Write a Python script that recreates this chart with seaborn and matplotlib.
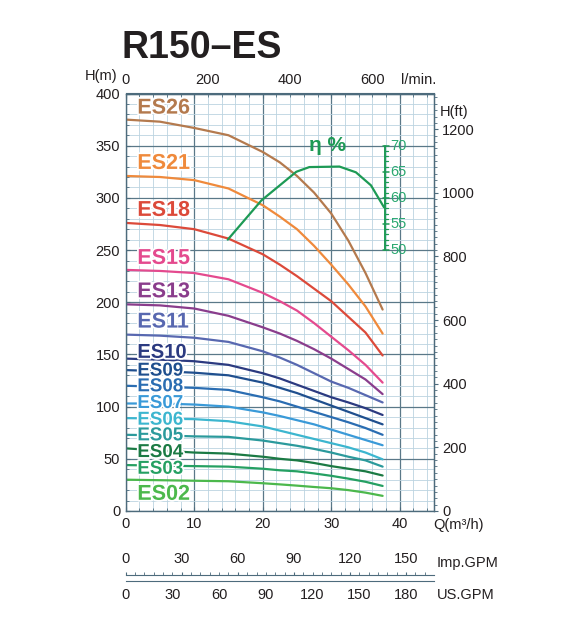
import numpy as np
import pandas as pd
import matplotlib.pyplot as plt
import matplotlib.patheffects as pe
from matplotlib.ticker import MultipleLocator, FixedLocator
import seaborn as sns

sns.set_style('white')
plt.rcParams['font.family'] = ['Liberation Sans', 'DejaVu Sans']

q = [0, 5, 10, 15, 20, 22.5, 25, 27.5, 30, 32.5, 35, 37.5]

models = ['ES26', 'ES21', 'ES18', 'ES15', 'ES13', 'ES11', 'ES10', 'ES09',
          'ES08', 'ES07', 'ES06', 'ES05', 'ES04', 'ES03', 'ES02']

es26 = [375, 373, 367, 360, 344, 334, 321, 305, 285, 259, 228, 193]
es21 = [321, 320, 317, 309, 293, 282, 270, 254, 236, 217, 196, 170]
es18 = [276, 274, 270, 261, 246, 236, 225, 213, 201, 186, 171, 149]
es15 = [231, 230, 228, 222, 209, 201, 192, 180, 167, 154, 140, 123]
es13 = [198, 197, 194, 187, 176, 170, 163, 155, 146, 136, 126, 112]
es11 = [169, 168, 166, 162, 153, 147, 140, 132, 124, 118, 111, 104]
es10 = [146, 145, 143.5, 140, 132, 127, 121, 115, 109, 104, 98.5, 92]
es09 = [135, 134, 132.5, 130, 123, 118, 113, 107, 101, 95, 89, 83]
es08 = [120, 119, 118, 116, 109, 105, 100, 95, 90, 85, 79.5, 73]
es07 = [103, 103, 102, 100, 94.5, 91, 87, 83, 78, 73, 68, 63]
es06 = [89, 88.5, 88, 86, 81, 77, 73, 69, 65, 61, 56, 49.5]
es05 = [73, 72.5, 71.5, 71, 67.5, 65, 62.5, 59.5, 56, 52, 48.5, 42.5]
es04 = [60, 58, 56, 55, 52, 50, 48.5, 46, 43, 40.5, 38, 34]
es03 = [44, 43.5, 43, 42.5, 40.5, 39, 38, 36, 33.7, 31, 28, 24]
es02 = [30, 29.5, 29, 28.5, 26.6, 25.5, 24.3, 23, 21.8, 20, 17.6, 14.5]
heads = [es26, es21, es18, es15, es13, es11, es10, es09,
         es08, es07, es06, es05, es04, es03, es02]

colors = ['#b47a4e', '#ef8a3c', '#dc4a3a', '#e44a8e', '#8a3d8c', '#5868b0',
          '#2b3a80', '#1f4f8e', '#2a6db2', '#3a9ad8', '#3cb6cf', '#2b9a9c',
          '#1b7a44', '#25a062', '#4cb84c']

# label y positions (m) and font sizes
label_h = [386, 333, 288, 242, 210, 181, 152, 134, 119, 103, 87, 72, 56, 40, 16]
label_fs = [15.5, 15.5, 15.5, 15.5, 15.5, 15.5, 14.5, 13.5, 13.5, 13.5, 13.5, 13.5, 13.5, 13.5, 15.5]

# efficiency curve
eff_q = [14.9, 19.8, 24.9, 26.8, 31.2, 33.6, 35.8, 37.7]
eff_pct = [52, 59.5, 65, 65.9, 66, 64.9, 62.4, 58.2]
eff_ticks = [50, 55, 60, 65, 70]

top_ticks = [0, 200, 400, 600]
ft_ticks = [0, 200, 400, 600, 800, 1000, 1200]
imp_ticks = [0, 30, 60, 90, 120, 150]
us_ticks = [0, 30, 60, 90, 120, 150, 180]

rows = []
for m, h in zip(models, heads):
    for qq, hh in zip(q, h):
        rows.append((m, qq, hh))
df = pd.DataFrame(rows, columns=['model', 'Q', 'H'])

W, H = 586, 639
def fx(p):
    return p / W
def fy(p):
    return 1 - p / H

spine_c = '#4d6b7c'
text_c = '#231f20'
green = '#1d9a55'

fig = plt.figure(figsize=(5.86, 6.39), dpi=100)
ax = fig.add_axes([fx(125.7), fy(511), fx(434) - fx(125.7), fy(93.5) - fy(511)])

sns.lineplot(data=df, x='Q', y='H', hue='model', palette=dict(zip(models, colors)),
             legend=False, lw=1.6, ax=ax)

ax.set_xlim(0, 45)
ax.set_ylim(0, 400)
ax.xaxis.set_major_locator(MultipleLocator(10))
ax.xaxis.set_minor_locator(MultipleLocator(2))
ax.yaxis.set_major_locator(MultipleLocator(50))
ax.yaxis.set_minor_locator(MultipleLocator(10))
ax.grid(which='minor', color='#bcd3e0', lw=0.6)
ax.grid(which='major', color='#5a7888', lw=0.9)
ax.set_axisbelow(True)
for s in ax.spines.values():
    s.set_color(spine_c)
    s.set_linewidth(1.0)
ax.tick_params(which='both', direction='in', colors=spine_c, labelcolor=text_c,
               labelsize=10.5, top=True, left=True, bottom=True)
ax.tick_params(which='major', length=3, pad=4)
ax.tick_params(which='minor', length=2)
ax.set_xlabel('')
ax.set_ylabel('')

# curve labels
for m, c, yh, fs in zip(models, colors, label_h, label_fs):
    ax.text(1.7, yh, m, color=c, fontsize=fs, fontweight='bold', va='center', ha='left',
            path_effects=[pe.withStroke(linewidth=2.5, foreground='white')])

# efficiency curve and its scale
eff_h = 250 + (np.array(eff_pct) - 50) * 5
ax.plot(eff_q, eff_h, color=green, lw=1.6)
sx = 37.9
ax.plot([sx, sx], [250, 350], color=green, lw=1.4)
for p in range(50, 71):
    yy = 250 + (p - 50) * 5
    if p % 5 == 0:
        ax.plot([sx - 0.35, sx + 0.5], [yy, yy], color=green, lw=1.1)
    else:
        ax.plot([sx, sx + 0.45], [yy, yy], color=green, lw=0.9)
for p in eff_ticks:
    ax.text(sx + 0.7, 250 + (p - 50) * 5, str(p), color='#2aa870', fontsize=10.5, va='center', ha='left')
ax.text(29.5, 350, 'η %', color=green, fontsize=15, fontweight='bold', ha='center', va='center')

# right axis in feet
secy = ax.secondary_yaxis('right', functions=(lambda m: m / 0.3048, lambda f: f * 0.3048))
secy.yaxis.set_major_locator(FixedLocator(ft_ticks))
secy.yaxis.set_minor_locator(MultipleLocator(20))
secy.spines['right'].set_color(spine_c)
secy.tick_params(which='both', direction='out', colors=spine_c, labelcolor=text_c, labelsize=10.5)
secy.tick_params(which='major', length=3, pad=3)
secy.tick_params(which='minor', length=2)

# top axis in l/min
secx = ax.secondary_xaxis('top', functions=(lambda v: v * 1000 / 60, lambda v: v * 60 / 1000))
secx.xaxis.set_major_locator(FixedLocator(top_ticks))
secx.spines['top'].set_color(spine_c)
secx.tick_params(which='both', direction='in', length=0, colors=spine_c, labelcolor=text_c,
                 labelsize=10.5, pad=5)

fig.text(fx(122), fy(48), 'R150–ES', fontsize=27, fontweight='bold', color=text_c, va='center', ha='left')
fig.text(fx(101), fy(76), 'H(m)', fontsize=10.5, color=text_c, va='center', ha='center')
fig.text(fx(401), fy(80), 'l/min.', fontsize=10.5, color=text_c, va='center', ha='left')
fig.text(fx(440), fy(112), 'H(ft)', fontsize=10.5, color=text_c, va='center', ha='left')
fig.text(fx(433), fy(525), 'Q(m³/h)', fontsize=10.5, color=text_c, va='center', ha='left')

# GPM scales
q_max = 45
imp_max = q_max * 1000 / 60 / 4.54609
us_max = q_max * 1000 / 60 / 3.78541
left = fx(125.7)
width = fx(434) - fx(125.7)

ax_imp = fig.add_axes([left, fy(575) - 0.004, width, 0.004])
ax_imp.set_xlim(0, imp_max)
ax_imp.set_yticks([])
for k, s in ax_imp.spines.items():
    s.set_visible(k == 'top')
ax_imp.spines['top'].set_color(spine_c)
ax_imp.xaxis.set_ticks_position('top')
ax_imp.xaxis.set_label_position('top')
ax_imp.xaxis.set_major_locator(FixedLocator(imp_ticks))
ax_imp.xaxis.set_minor_locator(MultipleLocator(5))
ax_imp.tick_params(which='both', direction='out', length=2.5, colors=spine_c,
                   labelcolor=text_c, labelsize=10.5, pad=4)
ax_imp.patch.set_alpha(0)

ax_us = fig.add_axes([left, fy(580.5), width, 0.004])
ax_us.set_xlim(0, us_max)
ax_us.set_yticks([])
for k, s in ax_us.spines.items():
    s.set_visible(k == 'bottom')
ax_us.spines['bottom'].set_color(spine_c)
ax_us.xaxis.set_major_locator(FixedLocator(us_ticks))
ax_us.xaxis.set_minor_locator(MultipleLocator(5))
ax_us.tick_params(which='both', direction='out', length=2.5, colors=spine_c,
                  labelcolor=text_c, labelsize=10.5, pad=3)
ax_us.patch.set_alpha(0)

fig.text(fx(437), fy(563), 'Imp.GPM', fontsize=10.5, color=text_c, va='center', ha='left')
fig.text(fx(437), fy(595), 'US.GPM', fontsize=10.5, color=text_c, va='center', ha='left')

fig.savefig('out.png', dpi=100)
